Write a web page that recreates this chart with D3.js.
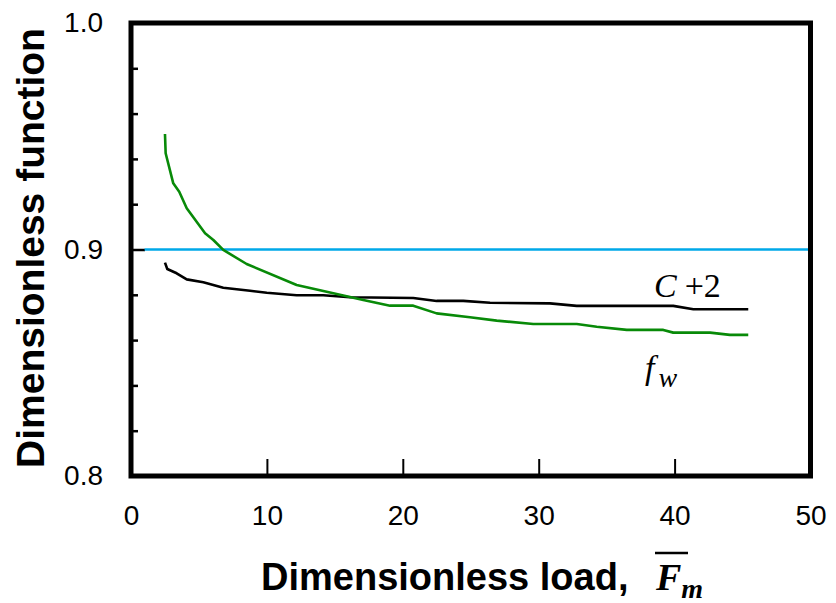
<!DOCTYPE html>
<html>
<head>
<meta charset="utf-8">
<script src="https://cdn.jsdelivr.net/npm/d3@7"></script>
<style>
  html, body { margin: 0; padding: 0; background: #fff; }
  svg { display: block; }
</style>
</head>
<body>
<svg id="chart" width="836" height="603"></svg>
<script>
// Dimensionless load values (x) for each curve
const loadC = [2.5, 2.67, 3.36, 4.1, 5.32, 6.79, 8.76, 9.99, 12.19, 14.15, 16.11, 20.77, 22.49, 24.45, 26.42, 30.83, 32.8, 39.9, 41.38, 45.42];
const cPlus2 = [0.8942, 0.8914, 0.8895, 0.8868, 0.8855, 0.8831, 0.8818, 0.8809, 0.8798, 0.8798, 0.8789, 0.8786, 0.8773, 0.8773, 0.8765, 0.8762, 0.8751, 0.8751, 0.8736, 0.8736];

const loadF = [2.5, 2.55, 3.11, 3.55, 4.1, 5.45, 6.06, 6.79, 8.51, 12.19, 14.89, 17.09, 19.06, 20.77, 22.49, 24.94, 26.91, 29.6, 32.8, 34.27, 36.48, 39.17, 39.9, 42.61, 44.07, 45.42];
const fw = [0.951, 0.9425, 0.9292, 0.9255, 0.9182, 0.9072, 0.9042, 0.8998, 0.8936, 0.8843, 0.8807, 0.8777, 0.8752, 0.8752, 0.8718, 0.8701, 0.8686, 0.8671, 0.8671, 0.8659, 0.8645, 0.8645, 0.8633, 0.8633, 0.8623, 0.8623];

// Horizontal reference level
const refLoad = [1, 50];
const refValue = 0.9;

// Axis ticks
const xTickLabels = [0, 10, 20, 30, 40, 50];
const xInnerTicks = [10, 20, 30, 40];
const yTickLabels = [0.8, 0.9, 1.0];
const yMinorTicks = [0.82, 0.84, 0.86, 0.88, 0.92, 0.94, 0.96, 0.98];
const yMajorTicks = [0.9];

const svg = d3.select("#chart");
const L = 131, R = 810.5, T = 23, B = 476;

const x = d3.scaleLinear().domain([0, 50]).range([L, R]);
const y = d3.scaleLinear().domain([0.8, 1.0]).range([B, T]);

const sansFont = "'Liberation Sans', Arial, sans-serif";
const serifFont = "'Liberation Serif', 'Times New Roman', serif";

// Tick labels
const xLab = svg.append("g").attr("transform", `translate(0,${B})`)
  .call(d3.axisBottom(x).tickValues(xTickLabels).tickSize(0).tickPadding(29).tickFormat(d3.format("d")));
const yLab = svg.append("g").attr("transform", `translate(${L},0)`)
  .call(d3.axisLeft(y).tickValues(yTickLabels).tickSize(0).tickPadding(28).tickFormat(d3.format(".1f")));
[xLab, yLab].forEach(g => {
  g.select(".domain").remove();
  g.selectAll("text").attr("font-family", sansFont).attr("font-size", 28).attr("fill", "#000");
});

// Inward tick marks
function tickAxis(axis, tf, w) {
  const g = svg.append("g").attr("transform", tf).call(axis);
  g.select(".domain").remove();
  g.selectAll("line").attr("stroke", "#000").attr("stroke-width", w);
  g.selectAll("text").remove();
  return g;
}
tickAxis(d3.axisBottom(x).tickValues(xInnerTicks).tickSize(-17), `translate(0,${B})`, 2);
tickAxis(d3.axisLeft(y).tickValues(yMinorTicks).tickSize(-7), `translate(${L},0)`, 2.5);
tickAxis(d3.axisLeft(y).tickValues(yMajorTicks).tickSize(-14), `translate(${L},0)`, 2.5);

const line = d3.line().x(d => x(d[0])).y(d => y(d[1]));

// Reference line at 0.9
svg.append("path")
  .datum(refLoad.map(v => [v, refValue]))
  .attr("fill", "none")
  .attr("stroke", "#00A8E8")
  .attr("stroke-width", 2.5)
  .attr("d", line);

// C + 2 curve
svg.append("path")
  .datum(loadC.map((v, i) => [v, cPlus2[i]]))
  .attr("fill", "none").attr("stroke", "#000").attr("stroke-width", 2.6)
  .attr("stroke-linejoin", "round")
  .attr("d", line);

// f_w curve
svg.append("path")
  .datum(loadF.map((v, i) => [v, fw[i]]))
  .attr("fill", "none").attr("stroke", "#088A08").attr("stroke-width", 2.6)
  .attr("stroke-linejoin", "round")
  .attr("d", line);

// Plot frame
svg.append("rect")
  .attr("x", L).attr("y", T).attr("width", R - L).attr("height", B - T)
  .attr("fill", "none").attr("stroke", "#000").attr("stroke-width", 5);

// Curve labels
const cLab = svg.append("text").attr("x", 654).attr("y", 297)
  .attr("font-family", serifFont).attr("font-size", 34).attr("fill", "#000");
cLab.append("tspan").attr("font-style", "italic").text("C");
cLab.append("tspan").attr("dx", 8).text("+2");

const fLab = svg.append("text").attr("x", 645).attr("y", 379)
  .attr("font-family", serifFont).attr("font-size", 34).attr("fill", "#000");
fLab.append("tspan").attr("font-style", "italic").text("f");
fLab.append("tspan").attr("font-style", "italic").attr("font-size", 28).attr("dx", 4).attr("dy", 8).text("w");

// Axis titles
svg.append("text")
  .attr("transform", "translate(44,248) rotate(-90)")
  .attr("text-anchor", "middle")
  .attr("font-family", sansFont).attr("font-weight", "bold").attr("font-size", 39)
  .attr("fill", "#000")
  .text("Dimensionless function");

svg.append("text")
  .attr("x", 261).attr("y", 590)
  .attr("font-family", sansFont).attr("font-weight", "bold").attr("font-size", 38)
  .attr("fill", "#000")
  .text("Dimensionless load,");

const fm = svg.append("text").attr("x", 656).attr("y", 590)
  .attr("font-family", serifFont).attr("font-weight", "bold").attr("font-style", "italic")
  .attr("font-size", 38).attr("fill", "#000");
fm.append("tspan").text("F");
fm.append("tspan").attr("font-size", 28).attr("dy", 8).text("m");

// Overbar above F
svg.append("line")
  .attr("x1", 655).attr("x2", 688).attr("y1", 553).attr("y2", 553)
  .attr("stroke", "#000").attr("stroke-width", 2.5);
</script>
</body>
</html>
